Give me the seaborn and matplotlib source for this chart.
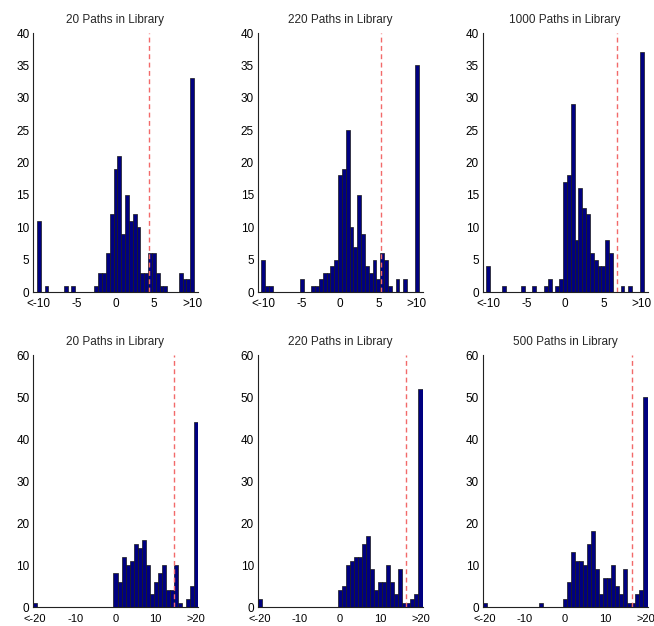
import numpy as np
import pandas as pd
import matplotlib
matplotlib.use("Agg")
import matplotlib.pyplot as plt
import seaborn as sns

sns.set_theme(style="white")
plt.rcParams['font.family'] = ['Liberation Sans', 'DejaVu Sans']

# ---- data ----
titles = ["20 Paths in Library", "220 Paths in Library", "1000 Paths in Library",
          "20 Paths in Library", "220 Paths in Library", "500 Paths in Library"]

# top row: bins centred on -10, -9.5, ..., 10 (end bins = overflow "<-10" / ">10")
top_range = (-10.25, 10.25)
top_width = 0.5
top1 = [11, 0, 1, 0, 0, 0, 0, 1, 0, 1, 0, 0, 0, 0, 0, 1, 3, 3, 6, 12,
        19, 21, 9, 15, 11, 12, 10, 3, 3, 6, 6, 3, 1, 1, 0, 0, 0, 3, 2, 2, 33]
top2 = [5, 1, 1, 0, 0, 0, 0, 0, 0, 0, 2, 0, 0, 1, 1, 2, 3, 3, 4, 5,
        18, 19, 25, 10, 7, 15, 9, 4, 3, 5, 2, 6, 5, 1, 0, 2, 0, 2, 0, 0, 35]
top3 = [4, 0, 0, 0, 1, 0, 0, 0, 0, 1, 0, 0, 1, 0, 0, 1, 2, 0, 1, 2,
        17, 18, 29, 8, 16, 13, 12, 6, 5, 4, 4, 8, 6, 0, 0, 1, 0, 1, 0, 0, 37]

# bottom row: bins centred on -20, -19, ..., 20 (end bins = overflow "<-20" / ">20")
bot_range = (-20.5, 20.5)
bot_width = 1.0
bot1 = [1] + [0] * 19 + [8, 6, 12, 10, 11, 15, 14, 16, 10, 3, 6, 8, 10, 4, 4, 10, 1, 0, 2, 5, 44]
bot2 = [2] + [0] * 19 + [4, 5, 10, 11, 12, 12, 15, 17, 9, 4, 6, 6, 10, 6, 3, 9, 1, 1, 2, 3, 52]
bot3 = [1] + [0] * 13 + [1] + [0] * 5 + [2, 6, 13, 11, 11, 10, 15, 18, 9, 3, 7, 7, 10, 5, 3, 9, 1, 1, 3, 4, 50]

thresholds = [4.35, 5.4, 6.83, 14.45, 16.5, 16.6]

top_ticks = [-10, -5, 0, 5, 10]
top_labels = ["<-10", "-5", "0", "5", ">10"]
bot_ticks = [-20, -10, 0, 10, 20]
bot_labels = ["<-20", "-10", "0", "10", ">20"]

# ---- figure ----
W, H = 654, 626
fig = plt.figure(figsize=(W / 100, H / 100), dpi=100)

lefts = [33, 257.5, 482.5]
width_px = 165
rows = [(33, 292), (355, 607)]

panels = [(top1, top_range, top_width), (top2, top_range, top_width), (top3, top_range, top_width),
          (bot1, bot_range, bot_width), (bot2, bot_range, bot_width), (bot3, bot_range, bot_width)]

for i, (counts, rng, bw) in enumerate(panels):
    r, c = divmod(i, 3)
    top_px, bot_px = rows[r]
    ax = fig.add_axes([lefts[c] / W, 1 - bot_px / H, width_px / W, (bot_px - top_px) / H])
    centers = rng[0] + bw * (np.arange(len(counts)) + 0.5)
    df = pd.DataFrame({"x": centers, "n": np.asarray(counts, dtype=float)})
    sns.histplot(data=df, x="x", weights="n", binwidth=bw, binrange=rng, ax=ax,
                 color="#000080", edgecolor="#1a1a1a", linewidth=0.5, alpha=1.0)
    ax.axvline(thresholds[i], color="#f26a6a", linestyle=(0, (3.5, 2.5)), linewidth=1.0)
    if r == 0:
        ax.set_xlim(-10.75, 10.75)
        ax.set_ylim(0, 40)
        ax.set_yticks(range(0, 41, 5))
        ax.set_xticks(top_ticks)
        ax.set_xticklabels(top_labels)
        xsize, xpad = 8.5, 4
    else:
        ax.set_xlim(-20.5, 20.5)
        ax.set_ylim(0, 60)
        ax.set_yticks(range(0, 61, 10))
        ax.set_xticks(bot_ticks)
        ax.set_xticklabels(bot_labels)
        xsize, xpad = 8, 4.8
    ax.set_xlabel("")
    ax.set_ylabel("")
    ax.set_title(titles[i], fontsize=8.5, pad=7)
    sns.despine(ax=ax)
    for s in ["left", "bottom"]:
        ax.spines[s].set_color("#222222")
        ax.spines[s].set_linewidth(0.8)
    ax.tick_params(axis="y", direction="in", length=3, width=0.6,
                   labelsize=8.5, colors="#000000", pad=2.5)
    ax.tick_params(axis="x", direction="in", length=2, width=0.6,
                   labelsize=xsize, colors="#000000", pad=xpad)

fig.savefig("out.png", dpi=100, facecolor="white")
